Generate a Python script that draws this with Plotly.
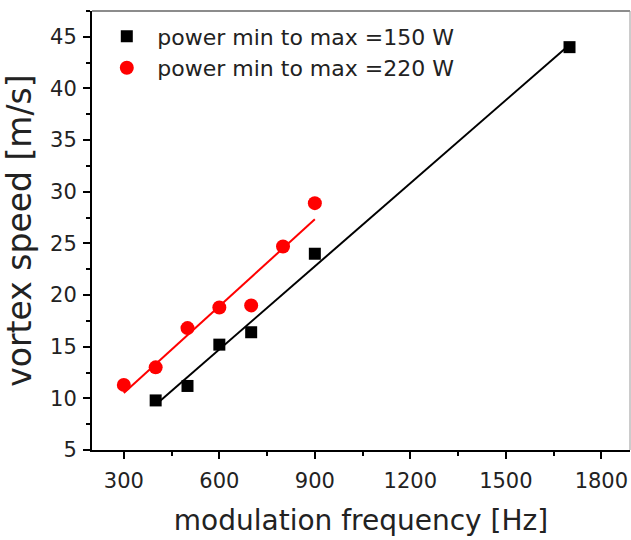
import numpy as np
import plotly.graph_objects as go

# data
freq_150 = [400, 500, 600, 700, 900, 1700]
speed_150 = [9.8, 11.2, 15.2, 16.4, 24.0, 44.0]
freq_220 = [300, 400, 500, 600, 700, 800, 900]
speed_220 = [11.3, 13.0, 16.8, 18.8, 19.0, 24.7, 28.9]
label_150 = "power min to max =150 W"
label_220 = "power min to max =220 W"
x_ticks = [300, 600, 900, 1200, 1500, 1800]
y_ticks = [5, 10, 15, 20, 25, 30, 35, 40, 45]

FONT = "DejaVu Sans"

def fit_line(x, y):
    k, b = np.polyfit(x, y, 1)
    xs = [min(x), max(x)]
    return xs, [k * v + b for v in xs]

fig = go.Figure()

fx, fy = fit_line(freq_150, speed_150)
fig.add_trace(go.Scatter(x=fx, y=fy, mode="lines", line=dict(color="black", width=2),
                         showlegend=False, hoverinfo="skip"))
fx, fy = fit_line(freq_220, speed_220)
fig.add_trace(go.Scatter(x=fx, y=fy, mode="lines", line=dict(color="#ff0000", width=2),
                         showlegend=False, hoverinfo="skip"))

fig.add_trace(go.Scatter(x=freq_150, y=speed_150, mode="markers", name=label_150,
                         marker=dict(symbol="square", size=12, color="black")))
fig.add_trace(go.Scatter(x=freq_220, y=speed_220, mode="markers", name=label_220,
                         marker=dict(symbol="circle", size=14, color="#ff0000")))

axis_common = dict(
    showgrid=False, zeroline=False,
    showline=True, linecolor="black", linewidth=2,
    ticks="outside", ticklen=7, tickwidth=1.5, tickcolor="black",
    tickfont=dict(family=FONT, size=21, color="#222222"),
)

fig.update_xaxes(range=[200, 1890], tickvals=x_ticks, ticklabelstandoff=4,
                 minor=dict(dtick=150, ticks="outside", ticklen=4, tickwidth=1.5, tickcolor="black"),
                 title=dict(text="modulation frequency [Hz]", font=dict(family=FONT, size=28, color="#222222"), standoff=18),
                 **axis_common)
fig.update_yaxes(range=[5, 47.5], tickvals=y_ticks, ticklabelstandoff=2,
                 minor=dict(dtick=2.5, ticks="outside", ticklen=4, tickwidth=1.5, tickcolor="black"),
                 title=dict(text="vortex speed [m/s]", font=dict(family=FONT, size=33, color="#222222"), standoff=14),
                 **axis_common)

# top and right frame lines (thin grey)
fig.add_shape(type="line", xref="paper", yref="paper", x0=0, x1=1, y0=1, y1=1,
              line=dict(color="#666666", width=1.5))
fig.add_shape(type="line", xref="paper", yref="paper", x0=1, x1=1, y0=0, y1=1,
              line=dict(color="#999999", width=1))

fig.update_layout(
    width=631, height=540,
    margin=dict(l=92, r=1, t=11, b=90),
    plot_bgcolor="white", paper_bgcolor="white",
    font=dict(family=FONT, color="#222222"),
    legend=dict(x=0.008, y=0.99, xanchor="left", yanchor="top",
                font=dict(family=FONT, size=22, color="#222222"),
                bgcolor="rgba(0,0,0,0)", tracegroupgap=0, itemsizing="trace",
                itemwidth=51),
)

fig.write_html("out.html")
